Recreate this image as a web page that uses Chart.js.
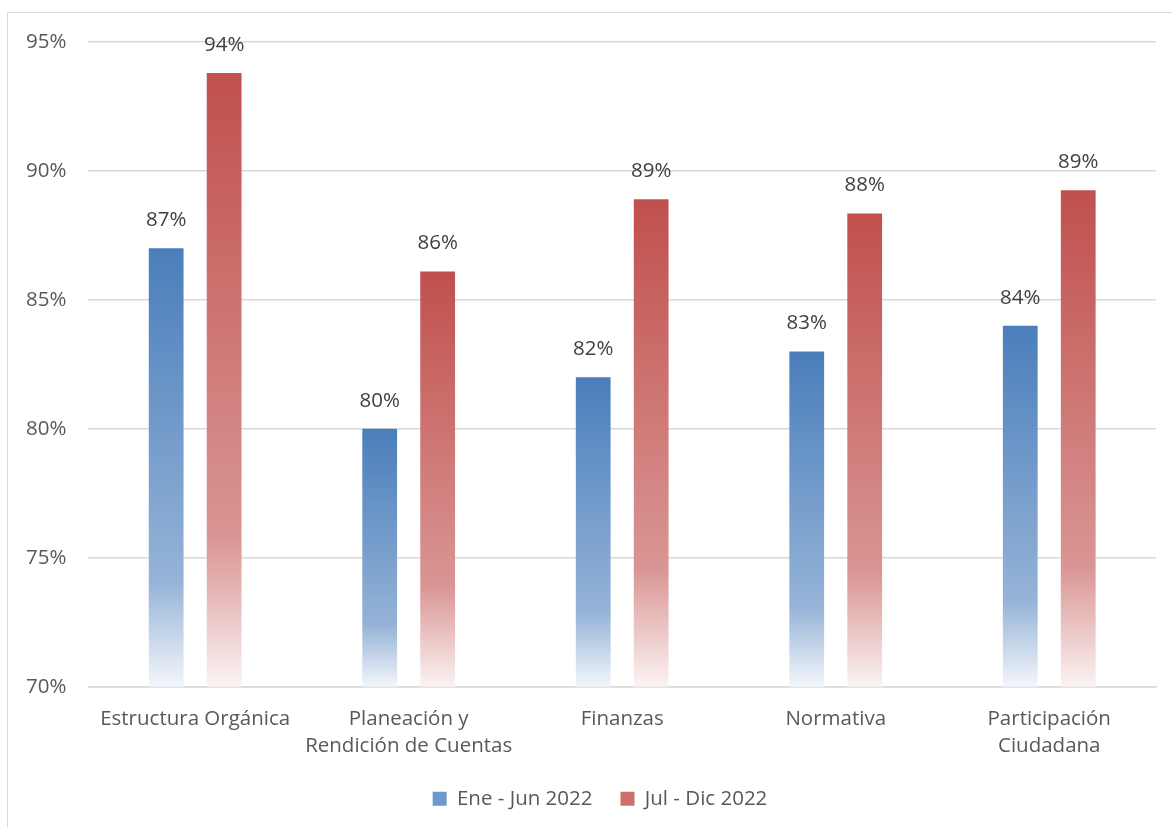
<!DOCTYPE html>
<html>
<head>
<meta charset="utf-8">
<script src="https://cdn.jsdelivr.net/npm/chart.js@4.4.0/dist/chart.umd.min.js"></script>
<style>
  body { margin: 0; background: #fff; overflow: hidden; }
  #frame { position: absolute; left: 7px; top: 12px; width: 1200px; height: 900px; border: 1px solid #d9d9d9; }
  #wrap { position: absolute; left: 0; top: 0; width: 1172px; height: 827px; }
</style>
</head>
<body>
<div id="frame"></div>
<div id="wrap"><canvas id="chart"></canvas></div>
<script>
const categories = [
  "Estructura Orgánica",
  ["Planeación y", "Rendición de Cuentas"],
  "Finanzas",
  "Normativa",
  ["Participación", "Ciudadana"],
];
const seriesNames = ["Ene - Jun 2022", "Jul - Dic 2022"];
const eneJun = [87.0, 80.0, 82.0, 83.0, 84.0];
const julDic = [93.8, 86.1, 88.9, 88.35, 89.25];
const yTicks = [70, 75, 80, 85, 90, 95];

const FONT = "'Open Sans', sans-serif";

// gradient per bar: strong at the top, fading to white at the base
function barFill(top, mid, bottom) {
  return (c) => {
    const chart = c.chart;
    const y = chart.scales.y;
    if (!y || c.raw == null) return top;
    const yTop = y.getPixelForValue(c.raw);
    const yBase = y.getPixelForValue(yTicks[0]);
    if (!isFinite(yTop) || !isFinite(yBase) || yTop === yBase) return top;
    const g = chart.ctx.createLinearGradient(0, yTop, 0, yBase);
    g.addColorStop(0, top);
    g.addColorStop(0.76, mid);
    g.addColorStop(1, bottom);
    return g;
  };
}

const valueLabels = {
  id: "valueLabels",
  afterDatasetsDraw(chart) {
    const ctx = chart.ctx;
    ctx.save();
    ctx.font = "20.5px " + FONT;
    ctx.fillStyle = "#404040";
    ctx.textAlign = "center";
    ctx.textBaseline = "middle";
    chart.data.datasets.forEach((ds, i) => {
      chart.getDatasetMeta(i).data.forEach((bar, j) => {
        ctx.fillText(Math.round(ds.data[j]) + "%", bar.x, bar.y - 28);
      });
    });
    ctx.restore();
  },
};

// the legend in the original sits a bit right of the page centre
const legendShift = {
  id: "legendShift",
  afterInit(chart) {
    const lg = chart.legend;
    if (!lg) return;
    const draw = lg.draw;
    lg.draw = function () {
      this.ctx.save();
      this.ctx.translate(20, 0);
      draw.apply(this, arguments);
      this.ctx.restore();
    };
  },
};

new Chart(document.getElementById("chart"), {
  type: "bar",
  data: {
    labels: categories,
    datasets: [
      {
        label: seriesNames[0],
        data: eneJun,
        backgroundColor: barFill("#4a7ebb", "#95b3d7", "#f3f6fb"),
        categoryPercentage: 0.543,
        barPercentage: 0.6,
      },
      {
        label: seriesNames[1],
        data: julDic,
        backgroundColor: barFill("#c0504d", "#d99694", "#fbf3f3"),
        categoryPercentage: 0.543,
        barPercentage: 0.6,
      },
    ],
  },
  options: {
    responsive: true,
    maintainAspectRatio: false,
    animation: false,
    layout: { padding: { left: 4, right: 16, top: 42, bottom: 8 } },
    scales: {
      y: {
        min: yTicks[0],
        max: yTicks[yTicks.length - 1],
        ticks: {
          stepSize: 5,
          callback: (v) => v + "%",
          color: "#595959",
          font: { family: FONT, size: 20.5 },
          padding: 22,
        },
        grid: { color: "#d9d9d9", lineWidth: 1.5, drawTicks: false },
        border: { display: false },
      },
      x: {
        ticks: {
          color: "#595959",
          font: { family: FONT, size: 20.5, lineHeight: 1.36 },
          maxRotation: 0,
          autoSkip: false,
          padding: 10,
        },
        grid: { display: false },
        border: { color: "#d9d9d9", width: 1.5 },
        afterFit: (scale) => { scale.height -= 10; },
      },
    },
    plugins: {
      legend: {
        position: "bottom",
        labels: {
          color: "#595959",
          font: { family: FONT, size: 20.5 },
          boxWidth: 14,
          boxHeight: 14,
          padding: 28,
          generateLabels: (chart) => [
            { text: seriesNames[0], fillStyle: "#6f97cb", strokeStyle: "#6f97cb", lineWidth: 0, datasetIndex: 0, fontColor: "#595959" },
            { text: seriesNames[1], fillStyle: "#cd706d", strokeStyle: "#cd706d", lineWidth: 0, datasetIndex: 1, fontColor: "#595959" },
          ],
        },
      },
      tooltip: { enabled: false },
    },
  },
  plugins: [valueLabels, legendShift],
});
</script>
</body>
</html>
